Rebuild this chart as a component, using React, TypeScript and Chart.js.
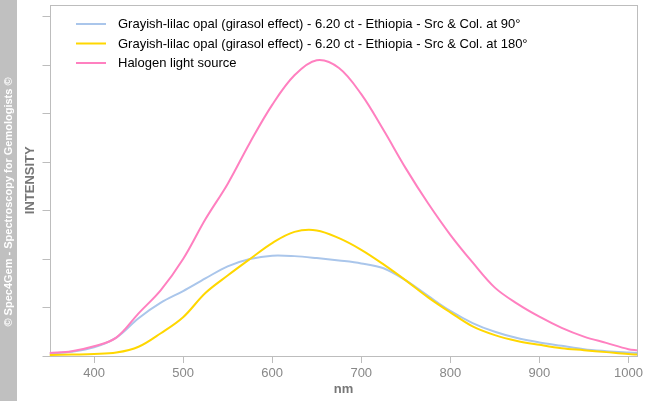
import React, { useEffect, useRef } from "react";
import { Chart, registerables } from "chart.js";

Chart.register(...registerables);

const WAVELENGTHS = [350, 375, 400, 425, 450, 475, 500, 525, 550, 575, 600, 625, 650, 675, 700, 725, 750, 775, 800, 825, 850, 875, 900, 925, 950, 975, 1000, 1010];
const OPAL_90 = [0.05, 0.09, 0.18, 0.38, 0.78, 1.1, 1.34, 1.6, 1.85, 2.0, 2.07, 2.06, 2.02, 1.97, 1.91, 1.81, 1.56, 1.24, 0.93, 0.68, 0.5, 0.37, 0.28, 0.21, 0.14, 0.1, 0.07, 0.06];
const OPAL_180 = [0.02, 0.03, 0.04, 0.07, 0.19, 0.47, 0.8, 1.3, 1.66, 2.0, 2.33, 2.56, 2.59, 2.43, 2.19, 1.89, 1.56, 1.21, 0.9, 0.61, 0.43, 0.31, 0.23, 0.16, 0.12, 0.08, 0.04, 0.03];
const HALOGEN = [0.06, 0.1, 0.2, 0.38, 0.88, 1.36, 2.0, 2.82, 3.55, 4.4, 5.18, 5.79, 6.1, 5.94, 5.4, 4.66, 3.87, 3.15, 2.5, 1.93, 1.41, 1.08, 0.81, 0.58, 0.4, 0.27, 0.14, 0.12];

const SERIES_LABELS = [
  "Grayish-lilac opal (girasol effect) - 6.20 ct - Ethiopia - Src & Col. at 90°",
  "Grayish-lilac opal (girasol effect) - 6.20 ct - Ethiopia - Src & Col. at 180°",
  "Halogen light source",
];
const SERIES_COLORS = ["#aac6eb", "#ffd700", "#ff80c0"];

const X_TICKS = [400, 500, 600, 700, 800, 900, 1000];
const Y_TICKS = [0, 1, 2, 3, 4, 5, 6, 7];
const X_MIN = 350;
const X_MAX = 1010;
const Y_MAX = 7.25;

const COPYRIGHT = "© Spec4Gem - Spectroscopy for Gemologists ©";
const FONT = '"Liberation Sans", Arial, sans-serif';
const FRAME = "#bdbdbd";

const pairs = (vals: number[]) => WAVELENGTHS.map((x, i) => ({ x, y: vals[i] }));

const bandPlugin = {
  id: "band",
  beforeDraw(chart: any) {
    const { ctx, height } = chart;
    ctx.save();
    ctx.fillStyle = "#c0c0c0";
    ctx.fillRect(0, 0, 17, height);
    ctx.translate(8.5, 202);
    ctx.rotate(-Math.PI / 2);
    ctx.fillStyle = "#ffffff";
    ctx.font = `bold 11px ${FONT}`;
    ctx.textAlign = "center";
    ctx.textBaseline = "middle";
    ctx.fillText(COPYRIGHT, 0, 0);
    ctx.restore();
  },
};

const framePlugin = {
  id: "frame",
  beforeDatasetsDraw(chart: any) {
    const { ctx, chartArea } = chart;
    ctx.save();
    ctx.strokeStyle = FRAME;
    ctx.lineWidth = 1;
    const l = Math.round(chartArea.left) + 0.5;
    const t = Math.round(chartArea.top) + 0.5;
    const r = Math.round(chartArea.right) + 0.5;
    const b = Math.round(chartArea.bottom) + 0.5;
    ctx.strokeRect(l, t, r - l, b - t);
    ctx.restore();
  },
};

const legendPlugin = {
  id: "customLegend",
  afterDraw(chart: any) {
    const { ctx } = chart;
    ctx.save();
    ctx.font = `13px ${FONT}`;
    ctx.textBaseline = "middle";
    ctx.textAlign = "left";
    chart.data.datasets.forEach((ds: any, i: number) => {
      const y = 24 + i * 19.5;
      ctx.strokeStyle = ds.borderColor;
      ctx.lineWidth = 2;
      ctx.beginPath();
      ctx.moveTo(76, y);
      ctx.lineTo(106, y);
      ctx.stroke();
      ctx.fillStyle = "#000000";
      ctx.fillText(ds.label, 118, y + 0.5);
    });
    ctx.restore();
  },
};

export default function App() {
  const ref = useRef<HTMLCanvasElement | null>(null);

  useEffect(() => {
    document.body.style.margin = "0";
    if (!ref.current) return;
    const seriesVals = [OPAL_90, OPAL_180, HALOGEN];
    const chart = new Chart(ref.current, {
      type: "line",
      data: {
        datasets: seriesVals.map((vals, i) => ({
          label: SERIES_LABELS[i],
          data: pairs(vals),
          borderColor: SERIES_COLORS[i],
          backgroundColor: SERIES_COLORS[i],
          borderWidth: 2,
          pointRadius: 0,
          fill: false,
          tension: 0.35,
          order: 3 - i,
        })),
      },
      options: {
        responsive: false,
        animation: false,
        events: [],
        layout: { padding: { left: 17, top: 4.5, right: 5, bottom: 0 } },
        plugins: {
          legend: { display: false },
          tooltip: { enabled: false },
        },
        scales: {
          x: {
            type: "linear",
            min: X_MIN,
            max: X_MAX,
            afterBuildTicks: (scale: any) => {
              scale.ticks = X_TICKS.map((v) => ({ value: v }));
            },
            afterFit: (scale: any) => {
              scale.height = 45;
            },
            grid: { drawOnChartArea: false, drawTicks: true, tickLength: 7, color: FRAME },
            border: { display: false },
            ticks: {
              color: "#888888",
              font: { family: FONT, size: 13 },
              padding: 3,
              maxRotation: 0,
              autoSkip: false,
              callback: (v: any) => String(v),
            },
            title: {
              display: true,
              text: "nm",
              color: "#777777",
              font: { family: FONT, size: 13, weight: "bold" },
              padding: { top: 0, bottom: 4 },
            },
          },
          y: {
            type: "linear",
            min: 0,
            max: Y_MAX,
            afterBuildTicks: (scale: any) => {
              scale.ticks = Y_TICKS.map((v) => ({ value: v }));
            },
            afterFit: (scale: any) => {
              scale.width = 32.5;
            },
            grid: { drawOnChartArea: false, drawTicks: true, tickLength: 7, color: FRAME },
            border: { display: false },
            ticks: { display: false },
            title: {
              display: true,
              text: "INTENSITY",
              color: "#777777",
              font: { family: FONT, size: 13, weight: "bold" },
              padding: { top: 6, bottom: 0 },
            },
          },
        },
      },
      plugins: [bandPlugin, framePlugin, legendPlugin],
    });
    return () => chart.destroy();
  }, []);

  return <canvas ref={ref} width={646} height={401} style={{ display: "block" }} />;
}
